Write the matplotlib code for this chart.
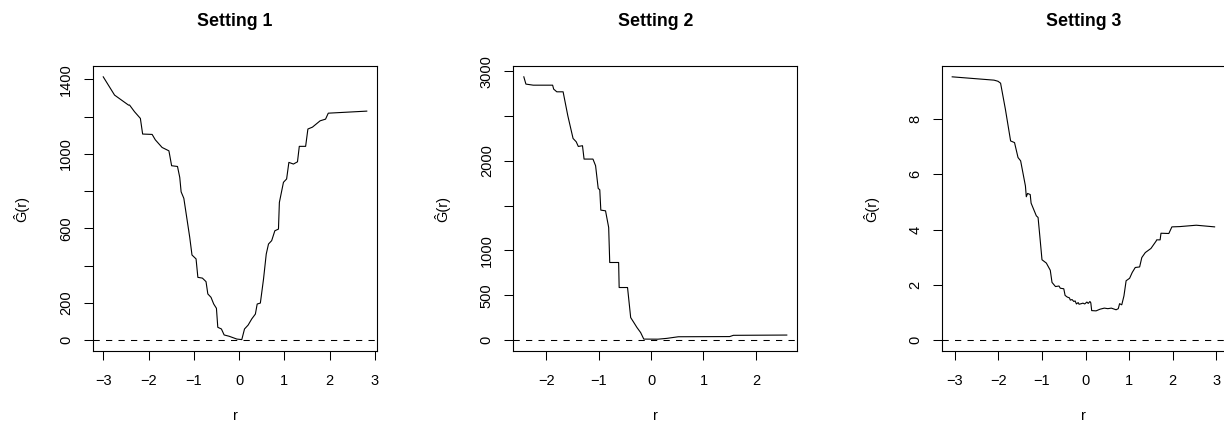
import matplotlib
matplotlib.use("Agg")
import matplotlib.pyplot as plt
import numpy as np

plt.rcParams['font.family'] = ['Liberation Sans', 'DejaVu Sans']

# Setting 1
r1 = [-3.00, -2.75, -2.44, -2.42, -2.31, -2.18, -2.13, -1.92, -1.85, -1.70,
      -1.55, -1.53, -1.49, -1.36, -1.31, -1.28, -1.22, -1.09, -1.04, -0.95,
      -0.91, -0.81, -0.73, -0.69, -0.62, -0.56, -0.50, -0.47, -0.39, -0.33,
      -0.22, -0.05, 0.06, 0.12, 0.20, 0.28, 0.36, 0.40, 0.47, 0.54,
      0.60, 0.65, 0.72, 0.79, 0.87, 0.89, 0.98, 1.05, 1.10, 1.20,
      1.29, 1.33, 1.47, 1.52, 1.62, 1.79, 1.91, 1.97, 2.82]
g1 = [1413, 1315, 1261, 1262, 1226, 1190, 1106, 1104, 1075, 1034,
      1016, 990, 936, 932, 873, 796, 761, 552, 457, 436,
      337, 333, 314, 248, 230, 194, 171, 69, 60, 28,
      21, 6, 3, 60, 81, 114, 140, 194, 199, 328,
      462, 516, 534, 587, 596, 739, 847, 865, 954, 945,
      957, 1040, 1040, 1133, 1143, 1177, 1186, 1218, 1229]

# Setting 2
r2 = [-2.43, -2.39, -2.25, -1.88, -1.86, -1.80, -1.68, -1.59, -1.49, -1.43,
      -1.39, -1.31, -1.28, -1.11, -1.06, -1.01, -0.98, -0.96, -0.87, -0.81,
      -0.79, -0.62, -0.61, -0.45, -0.39, -0.33, -0.27, -0.20, -0.14, 0.13,
      0.30, 0.52, 1.50, 1.57, 2.59]
g2 = [2936, 2855, 2843, 2843, 2799, 2769, 2769, 2502, 2249, 2212,
      2160, 2168, 2019, 2019, 1945, 1692, 1677, 1450, 1442, 1256,
      866, 866, 587, 587, 252, 197, 141, 85, 12, 11,
      20, 38, 40, 54, 57]

# Setting 3
r3 = [-3.06, -2.10, -2.01, -1.95, -1.84, -1.72, -1.63, -1.55, -1.49, -1.38,
      -1.36, -1.33, -1.27, -1.25, -1.13, -1.09, -1.05, -1.00, -0.90, -0.81,
      -0.77, -0.69, -0.61, -0.58, -0.50, -0.47, -0.42, -0.37, -0.35, -0.31,
      -0.27, -0.24, -0.21, -0.17, -0.15, -0.10, -0.06, -0.02, 0.03, 0.06,
      0.10, 0.12, 0.14, 0.24, 0.33, 0.43, 0.51, 0.59, 0.70, 0.75,
      0.78, 0.83, 0.88, 0.93, 1.01, 1.07, 1.14, 1.24, 1.29, 1.37,
      1.50, 1.62, 1.63, 1.71, 1.73, 1.91, 1.98, 2.16, 2.54, 2.96]
g3 = [9.53, 9.41, 9.37, 9.30, 8.36, 7.21, 7.15, 6.61, 6.49, 5.58,
      5.19, 5.31, 5.27, 4.96, 4.50, 4.44, 3.77, 2.91, 2.79, 2.53,
      2.09, 1.94, 1.96, 1.88, 1.86, 1.62, 1.56, 1.53, 1.45, 1.47,
      1.40, 1.42, 1.31, 1.36, 1.30, 1.32, 1.34, 1.31, 1.38, 1.33,
      1.40, 1.35, 1.07, 1.06, 1.12, 1.16, 1.14, 1.16, 1.10, 1.14,
      1.32, 1.28, 1.60, 2.15, 2.24, 2.45, 2.63, 2.65, 2.99, 3.17,
      3.32, 3.59, 3.63, 3.63, 3.87, 3.86, 4.10, 4.11, 4.16, 4.10]

titles = ['Setting 1', 'Setting 2', 'Setting 3']
xticks = [[-3, -2, -1, 0, 1, 2, 3], [-2, -1, 0, 1, 2], [-3, -2, -1, 0, 1, 2, 3]]
yticks = [[0, 200, 400, 600, 800, 1000, 1200, 1400],
          [0, 500, 1000, 1500, 2000, 2500, 3000],
          [0, 2, 4, 6, 8]]
ylabs = [['0', '200', '', '600', '', '1000', '', '1400'],
         ['0', '500', '1000', '', '2000', '', '3000'],
         ['0', '2', '4', '6', '8']]

fig = plt.figure(figsize=(12.24, 4.25), dpi=100)
lefts = [92.7, 513.3, 941.7]
widths = [284.6, 284.0, 283.4]

for i, (r, g) in enumerate([(r1, g1), (r2, g2), (r3, g3)]):
    ax = fig.add_axes([lefts[i] / 1224, 1 - 350.7 / 425, widths[i] / 1224, 284.4 / 425])
    ax.plot(r, g, color='black', lw=0.8)
    ax.axhline(0, color='black', lw=0.75, linestyle=(0, (6, 6)))
    # R style 4% extension, y range forced to include 0
    xr = max(r) - min(r)
    ax.set_xlim(min(r) - 0.04 * xr, max(r) + 0.04 * xr)
    ax.set_ylim(-0.04 * max(g), 1.04 * max(g))
    ax.set_xticks(xticks[i])
    ax.set_xticklabels(['\u2212' + str(-t) if t < 0 else str(t) for t in xticks[i]])
    ax.set_yticks(yticks[i])
    ax.set_yticklabels(ylabs[i], rotation=90, va='center')
    ax.tick_params(axis='both', length=6.5, width=0.75, labelsize=10.5)
    ax.tick_params(axis='x', pad=10)
    ax.tick_params(axis='y', pad=7.5)
    for s in ax.spines.values():
        s.set_linewidth(0.8)
    ax.set_title(titles[i], fontsize=12.8, fontweight='bold', pad=29)
    ax.set_xlabel('r', fontsize=10.5)
    ax.xaxis.set_label_coords(0.5, -0.205)
    ax.set_ylabel('\u011c(r)', fontsize=10.5)
    ax.yaxis.set_label_coords(-0.222, 0.5)

plt.savefig('out.png', dpi=100)
